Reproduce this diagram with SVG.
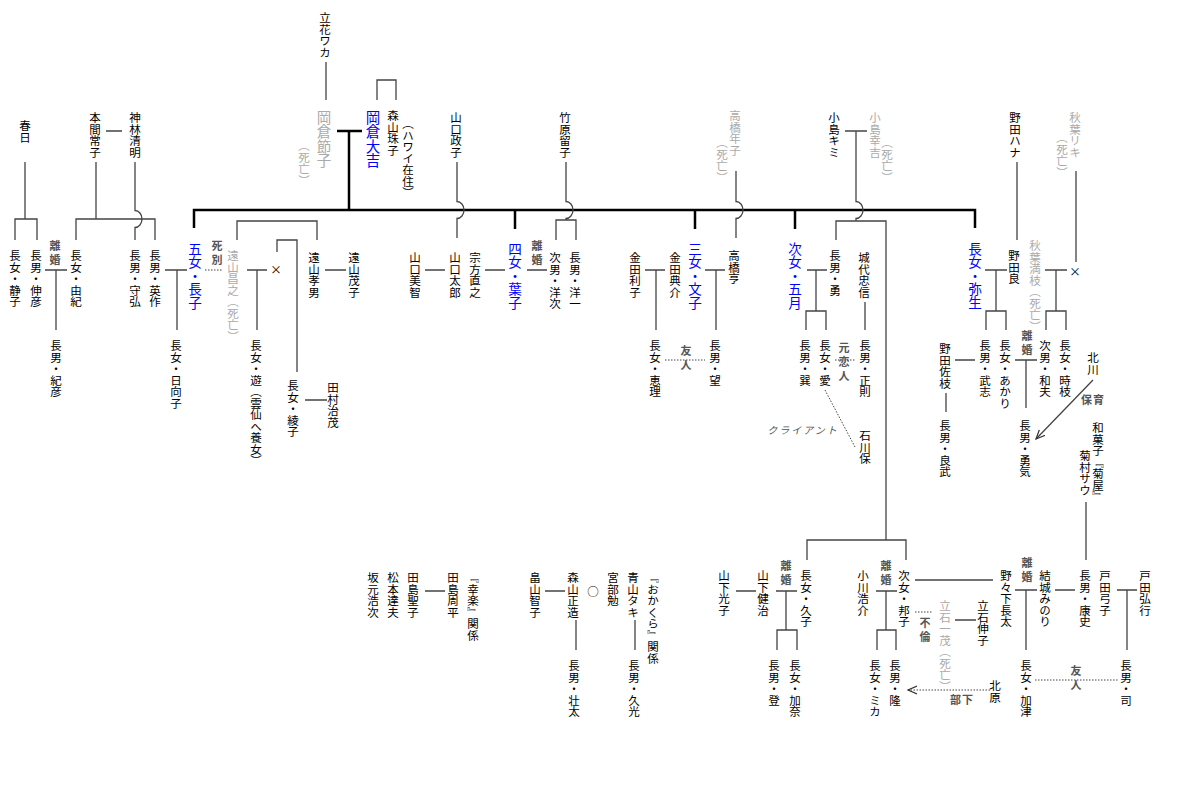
<svg xmlns="http://www.w3.org/2000/svg" width="1200" height="800" viewBox="0 0 1200 800">
<style>
text{font-family:"Noto Sans CJK JP","Noto Sans CJK SC",sans-serif;font-size:11.5px;fill:#000;writing-mode:vertical-rl}
.b{fill:#0000ff;font-size:13.5px}
.big{font-size:14.5px}
.g{fill:#aaaaaa}
.lb{fill:#555555;font-size:11px;letter-spacing:3px;font-weight:bold}
.h{writing-mode:horizontal-tb;text-anchor:middle}
.ln{fill:none;stroke:#444;stroke-width:1.3}
.th{fill:none;stroke:#000;stroke-width:2.5}
.dt{fill:none;stroke:#444;stroke-width:1;stroke-dasharray:1.5 1.5}
</style>
<defs>
<marker id="arr" viewBox="0 0 10 10" refX="9" refY="5" markerWidth="10" markerHeight="10" markerUnits="userSpaceOnUse" orient="auto">
<path d="M0,1 L9,5 L0,9" fill="none" stroke="#333" stroke-width="1.2"/>
</marker>
</defs>
<rect width="1200" height="800" fill="#fff"/>
<g id="connectors">
<path class="th" d="M194,228 V210 H975 V228 M515,210 V229 M695,210 V229 M795,210 V229 M337,131 H362 M349,131 V210"/>
<path class="ln" d="M25,162 V219 M15,240 V219 H37 V240 M96,162 V219 M76,240 V219 H155 V240 M135,162 V210.5 A7,8.5 0 0 1 135,227.5 V240 M106,131 H122 M45,270 H67 M56,270 V330 M165,270 H187 M177,270 V330"/>
<path class="ln" d="M247,270 H267 M257,270 V330 M237,240 V221 H317 V240 M277,252 V240 H297 V372 M325,270 H346 M305,400 H327 M326,62 V100 M377,100 V80 H396 V100"/>
<path class="ln" d="M457,162 V201.5 A7,8.5 0 0 1 457,218.5 V238 M425,270 H445 M485,270 H505 M527,270 H547 M566,162 V201.5 A7,8.5 0 0 1 566,218.5 V220 M556,240 V220 H576 V240"/>
<path class="ln" d="M736,171 V201.5 A7,8.5 0 0 1 736,218.5 V238 M645,270 H665 M656,270 V330 M705,270 H725 M716,270 V330 M807,270 H827 M816,270 V311 M806,330 V311 H826 V330"/>
<path class="ln" d="M845,131 H867 M856,131 V201.5 A7,8.5 0 0 1 856,218.5 V221 M836,240 V221 H886 V540 M865,302 V330 M807,560 V540 H906 V560"/>
<path class="ln" d="M1017,162 V240 M1076,171 V262 M985,270 H1007 M996,270 V311 M986,330 V311 H1006 V330 M1045,270 H1067 M1056,270 V311 M1046,330 V311 H1066 V330 M955,360 H975 M946,393 V412 M1015,360 H1037 M1026,360 V408 M1086,502 V560"/>
<path class="ln" d="M425,591 H445 M545,591 H565 M576,620 V650 M635,620 V650 M736,591 H756 M776,591 H797 M786,591 V630 M777,650 V630 H797 V650 M876,591 H897 M886,591 V630 M877,650 V630 H896 V650"/>
<path class="ln" d="M915,580 H993 M955,620 H976 M1015,590 H1037 M1026,590 V650 M1055,590 H1075 M1117,590 H1137 M1127,590 V650"/>
<path class="dt" d="M205,270 H223 M665,360 H705 M835,360 H855 M825,390 L855,447 M915,612 H933 M1035,680 H1118"/>
<path class="ln" d="M1093,380 L1036,439" marker-end="url(#arr)"/>
<path class="dt" d="M990,690 H908" marker-end="url(#arr)"/>
</g>
<g id="labels">
<text class="lb" x="55" y="240">離婚</text>
<text class="lb" x="537" y="240">離婚</text>
<text class="lb" x="1027" y="330">離婚</text>
<text class="lb" x="786" y="560">離婚</text>
<text class="lb" x="886" y="560">離婚</text>
<text class="lb" x="1027" y="557">離婚</text>
<text class="lb" x="217" y="240">死別</text>
<text class="lb" x="686" y="345">友人</text>
<text class="lb" x="1076" y="665">友人</text>
<text class="lb" x="844" y="342">元恋人</text>
<text class="lb" x="925" y="617">不倫</text>
<text class="lb h" x="1093" y="404" style="letter-spacing:1px">保育</text>
<text class="lb h" x="962" y="704" style="letter-spacing:1px">部下</text>
<text class="lb h" x="803" y="434" style="letter-spacing:2px;font-size:10px;font-weight:normal;font-style:italic">クライアント</text>
<text class="h" x="276" y="274">×</text>
<text class="h" x="1075" y="276">×</text>
<text class="h" x="593" y="596">○</text>
</g>
<g id="n-kasuga"><text x="25" y="120">春日</text></g>
<g id="n-shizuko"><text x="15" y="250">長女・静子</text></g>
<g id="n-nobuhiko"><text x="36" y="250">長男・伸彦</text></g>
<g id="n-norihiko"><text x="56" y="340">長男・紀彦</text></g>
<g id="n-yuki"><text x="76" y="250">長女・由紀</text></g>
<g id="n-honma"><text x="95" y="112">本間常子</text></g>
<g id="n-kanbayashi"><text x="135" y="112">神林清明</text></g>
<g id="n-morihiro"><text x="135" y="250">長男・守弘</text></g>
<g id="n-eisaku"><text x="155" y="250">長男・英作</text></g>
<g id="n-hinako"><text x="176" y="340">長女・日向子</text></g>
<g id="n-chouko"><text class="b" x="195" y="242">五女・長子</text></g>
<g id="n-masayuki"><text class="g" x="233" y="250">遠山昌之（死亡）</text></g>
<g id="n-yuu"><text x="256" y="340">長女・遊（雲仙へ養女）</text></g>
<g id="n-takao"><text x="314" y="252">遠山孝男</text></g>
<g id="n-shigeko"><text x="354" y="252">遠山茂子</text></g>
<g id="n-ayako"><text x="293" y="380">長女・綾子</text></g>
<g id="n-tamura"><text x="333" y="382">田村治茂</text></g>
<g id="n-waka"><text x="325" y="12">立花ワカ</text></g>
<g id="n-setsuko"><text class="g big" x="324" y="110">岡倉節子</text><text class="g" x="304" y="140">（死亡）</text></g>
<g id="n-daikichi"><text class="b big" x="373" y="110">岡倉大吉</text></g>
<g id="n-tamako"><text x="393" y="110">森山珠子</text><text x="408" y="118">（ハワイ在住）</text></g>
<g id="n-masako"><text x="456" y="112">山口政子</text></g>
<g id="n-misato"><text x="415" y="252">山口美智</text></g>
<g id="n-taro"><text x="455" y="252">山口太郎</text></g>
<g id="n-munakata"><text x="475" y="252">宗方直之</text></g>
<g id="n-youko"><text class="b" x="515" y="242">四女・葉子</text></g>
<g id="n-tomeko"><text x="565" y="112">竹原留子</text></g>
<g id="n-youji"><text x="555" y="252">次男・洋次</text></g>
<g id="n-youichi"><text x="575" y="252">長男・洋一</text></g>
<g id="n-toshiko"><text x="635" y="252">金田利子</text></g>
<g id="n-norisuke"><text x="675" y="252">金田典介</text></g>
<g id="n-eri"><text x="655" y="340">長女・恵理</text></g>
<g id="n-fumiko"><text class="b" x="695" y="242">三女・文子</text></g>
<g id="n-toru"><text x="734" y="250">高橋亨</text></g>
<g id="n-nozomu"><text x="715" y="340">長男・望</text></g>
<g id="n-toshiko2"><text class="g" x="735" y="110">高橋年子</text><text class="g" x="722" y="137">（死亡）</text></g>
<g id="n-satsuki"><text class="b" x="795" y="242">次女・五月</text></g>
<g id="n-kimi"><text x="834" y="112">小島キミ</text></g>
<g id="n-koukichi"><text class="g" x="875" y="112">小島幸吉</text><text class="g" x="887" y="137">（死亡）</text></g>
<g id="n-isamu"><text x="835" y="250">長男・勇</text></g>
<g id="n-tadanobu"><text x="864" y="252">城代忠信</text></g>
<g id="n-tatsumi"><text x="805" y="340">長男・巽</text></g>
<g id="n-ai"><text x="825" y="340">長女・愛</text></g>
<g id="n-masanori"><text x="865" y="340">長男・正則</text></g>
<g id="n-ishikawa"><text x="865" y="430">石川保</text></g>
<g id="n-hana"><text x="1015" y="112">野田ハナ</text></g>
<g id="n-riki"><text class="g" x="1075" y="112">秋葉リキ</text><text class="g" x="1062" y="132">（死亡）</text></g>
<g id="n-yayoi"><text class="b" x="975" y="242">長女・弥生</text></g>
<g id="n-ryou"><text x="1014" y="250">野田良</text></g>
<g id="n-mitsue"><text class="g" x="1035" y="240">秋葉満枝（死亡）</text></g>
<g id="n-takeshi"><text x="985" y="340">長男・武志</text></g>
<g id="n-akari"><text x="1005" y="340">長女・あかり</text></g>
<g id="n-kazuo"><text x="1045" y="340">次男・和夫</text></g>
<g id="n-tokie"><text x="1065" y="340">長女・時枝</text></g>
<g id="n-sae"><text x="945" y="343">野田佐枝</text></g>
<g id="n-yoshitake"><text x="945" y="420">長男・良武</text></g>
<g id="n-yuuki"><text x="1025" y="420">長男・勇気</text></g>
<g id="n-kitagawa"><text x="1093" y="352">北川</text></g>
<g id="n-kikumura"><text x="1098" y="422">和菓子『菊屋』</text><text x="1085" y="450">菊村サウ</text></g>
<g id="n-sakamoto"><text x="373" y="572">坂元浩次</text></g>
<g id="n-matsumoto"><text x="393" y="572">松本達夫</text></g>
<g id="n-seiko"><text x="413" y="572">田島聖子</text></g>
<g id="n-shuhei"><text x="453" y="572">田島周平</text></g>
<g id="n-kouraku"><text x="473" y="572">『幸楽』関係</text></g>
<g id="n-tomoko"><text x="535" y="572">畠山智子</text></g>
<g id="n-shouzou"><text x="573" y="572">森山正造</text></g>
<g id="n-sota"><text x="574" y="660">長男・壮太</text></g>
<g id="n-miyabe"><text x="613" y="572">宮部勉</text></g>
<g id="n-taki"><text x="633" y="572">青山タキ</text></g>
<g id="n-hisamitsu"><text x="634" y="660">長男・久光</text></g>
<g id="n-okakura"><text x="653" y="572">『おかくら』関係</text></g>
<g id="n-mitsuko"><text x="724" y="570">山下光子</text></g>
<g id="n-kenji"><text x="763" y="570">山下健治</text></g>
<g id="n-hisako"><text x="806" y="570">長女・久子</text></g>
<g id="n-noboru"><text x="774" y="660">長男・登</text></g>
<g id="n-kana"><text x="795" y="660">長女・加奈</text></g>
<g id="n-ogawa"><text x="863" y="570">小川浩介</text></g>
<g id="n-kuniko"><text x="904" y="570">次女・邦子</text></g>
<g id="n-mika"><text x="875" y="660">長女・ミカ</text></g>
<g id="n-takashi"><text x="895" y="660">長男・隆</text></g>
<g id="n-kazushige"><text class="g" x="945" y="600">立石一茂（死亡）</text></g>
<g id="n-nobuko"><text x="983" y="600">立石伸子</text></g>
<g id="n-chouta"><text x="1006" y="570">野々下長太</text></g>
<g id="n-minori"><text x="1045" y="570">結城みのり</text></g>
<g id="n-katsu"><text x="1026" y="660">長女・加津</text></g>
<g id="n-kitahara"><text x="995" y="680">北原</text></g>
<g id="n-yasushi"><text x="1085" y="570">長男・康史</text></g>
<g id="n-yumiko"><text x="1105" y="570">戸田弓子</text></g>
<g id="n-hiroyuki"><text x="1145" y="570">戸田弘行</text></g>
<g id="n-tsukasa"><text x="1126" y="660">長男・司</text></g>
</svg>
